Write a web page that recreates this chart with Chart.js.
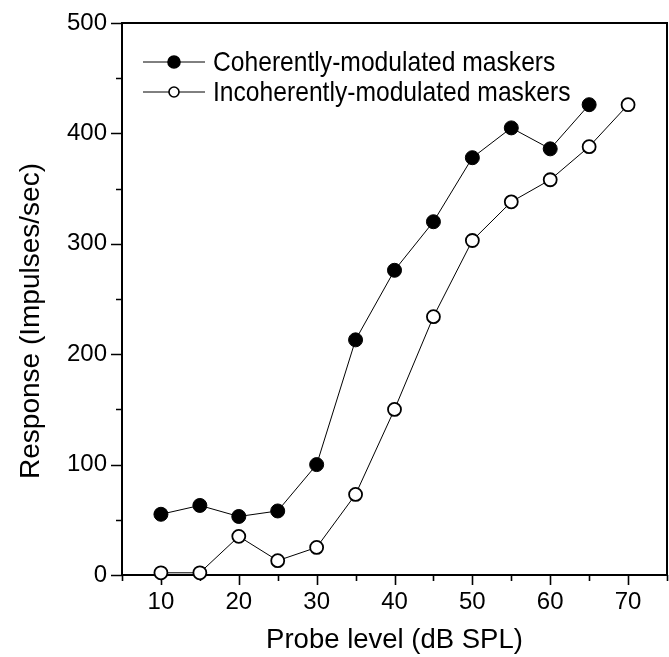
<!DOCTYPE html>
<html>
<head>
<meta charset="utf-8" />
<title>Probe level response</title>
<script src="https://cdn.jsdelivr.net/npm/chart.js"></script>
<style>
  html, body { margin: 0; padding: 0; background: #fff; }
  #wrap { width: 669px; height: 657px; }
</style>
</head>
<body>
<div id="wrap"><canvas id="chart" width="669" height="657"></canvas></div>
<script>
// data
const probeLevels = [10, 15, 20, 25, 30, 35, 40, 45, 50, 55, 60, 65, 70];
const coherentResp = [55, 63, 53, 58, 100, 213, 276, 320, 378, 405, 386, 426];
const incoherentResp = [2, 2, 35, 13, 25, 73, 150, 234, 303, 338, 358, 388, 426];
const seriesNames = ['Coherently-modulated maskers', 'Incoherently-modulated maskers'];
const xTicks = [5, 10, 15, 20, 25, 30, 35, 40, 45, 50, 55, 60, 65, 70, 75];
const xLabels = [10, 20, 30, 40, 50, 60, 70];
const yTicks = [0, 50, 100, 150, 200, 250, 300, 350, 400, 450, 500];
const yLabels = [0, 100, 200, 300, 400, 500];

const FONT = "'Liberation Sans', Arial, sans-serif";

function points(vals) {
  return vals.map((v, i) => ({ x: probeLevels[i], y: v }));
}

// keep the plot box exactly where the layout padding puts it
function noScalePadding(s) {
  s.paddingLeft = 0;
  s.paddingRight = 0;
  s.paddingTop = 0;
  s.paddingBottom = 0;
}

// frame, tick marks, y title and the line+marker legend
const framePlugin = {
  id: 'frame',
  beforeDatasetsDraw(chart) {
    const { ctx, chartArea: a, scales } = chart;
    ctx.save();
    ctx.strokeStyle = '#000';
    ctx.lineWidth = 2;
    ctx.strokeRect(a.left, a.top, a.right - a.left, a.bottom - a.top);
    ctx.lineWidth = 1.6;
    ctx.beginPath();
    xTicks.forEach(v => {
      const px = Math.round(scales.x.getPixelForValue(v)) + 0.5;
      const len = xLabels.includes(v) ? 10 : 6;
      ctx.moveTo(px, a.bottom);
      ctx.lineTo(px, a.bottom + len);
    });
    yTicks.forEach(v => {
      const py = Math.round(scales.y.getPixelForValue(v)) + 0.5;
      const len = yLabels.includes(v) ? 11 : 6;
      ctx.moveTo(a.left, py);
      ctx.lineTo(a.left - len, py);
    });
    ctx.stroke();

    // y axis title
    ctx.translate(31, (a.top + a.bottom) / 2 + 22);
    ctx.rotate(-Math.PI / 2);
    ctx.fillStyle = '#000';
    ctx.font = '28px ' + FONT;
    ctx.textAlign = 'center';
    ctx.textBaseline = 'middle';
    ctx.fillText('Response (Impulses/sec)', 0, 0);
    ctx.restore();
  },
  afterDraw(chart) {
    const { ctx, chartArea: a } = chart;
    ctx.save();
    chart.data.datasets.forEach((ds, i) => {
      const y = a.top + 39 + i * 30;
      const x0 = a.left + 21;
      ctx.strokeStyle = '#000';
      ctx.lineWidth = 1;
      ctx.beginPath();
      ctx.moveTo(x0, y);
      ctx.lineTo(x0 + 62, y);
      ctx.stroke();
      ctx.beginPath();
      ctx.arc(x0 + 31, y, i === 0 ? 6 : 5, 0, Math.PI * 2);
      ctx.fillStyle = ds.pointBackgroundColor;
      ctx.fill();
      ctx.lineWidth = 1.6;
      ctx.stroke();
      ctx.save();
      ctx.translate(x0 + 70, y);
      ctx.scale(0.88, 1);
      ctx.fillStyle = '#000';
      ctx.font = '28px ' + FONT;
      ctx.textBaseline = 'middle';
      ctx.fillText(ds.label, 0, 1);
      ctx.restore();
    });
    ctx.restore();
  }
};

new Chart(document.getElementById('chart'), {
  type: 'line',
  data: {
    datasets: [
      {
        label: seriesNames[0],
        data: points(coherentResp),
        borderColor: '#000',
        borderWidth: 1,
        pointRadius: 7,
        pointBackgroundColor: '#000',
        pointBorderColor: '#000',
        pointBorderWidth: 1,
        clip: false
      },
      {
        label: seriesNames[1],
        data: points(incoherentResp),
        borderColor: '#000',
        borderWidth: 1,
        pointRadius: 6.5,
        pointBackgroundColor: '#fff',
        pointBorderColor: '#000',
        pointBorderWidth: 1.8,
        clip: false
      }
    ]
  },
  options: {
    responsive: false,
    animation: false,
    layout: { autoPadding: false, padding: { top: 23, right: 2, left: 0, bottom: 0 } },
    plugins: {
      legend: { display: false },
      tooltip: { enabled: false }
    },
    scales: {
      x: {
        type: 'linear',
        min: 5,
        max: 75,
        afterBuildTicks: s => { s.ticks = xTicks.map(v => ({ value: v })); },
        afterFit: s => { s.height = 82; noScalePadding(s); },
        grid: { display: false, drawTicks: false },
        border: { display: false },
        ticks: {
          autoSkip: false,
          maxRotation: 0,
          padding: 13,
          color: '#000',
          font: { family: FONT, size: 24 },
          callback: v => xLabels.includes(v) ? String(v) : ''
        },
        title: {
          display: true,
          text: 'Probe level (dB SPL)',
          color: '#000',
          font: { family: FONT, size: 27.5 },
          padding: { top: 7, bottom: 0 }
        }
      },
      y: {
        type: 'linear',
        min: 0,
        max: 500,
        afterBuildTicks: s => { s.ticks = yTicks.map(v => ({ value: v })); },
        afterFit: s => { s.width = 122; noScalePadding(s); },
        grid: { display: false, drawTicks: false },
        border: { display: false },
        ticks: {
          autoSkip: false,
          padding: 15,
          color: '#000',
          font: { family: FONT, size: 24 },
          callback: v => yLabels.includes(v) ? String(v) : ''
        }
      }
    }
  },
  plugins: [framePlugin]
});
</script>
</body>
</html>
